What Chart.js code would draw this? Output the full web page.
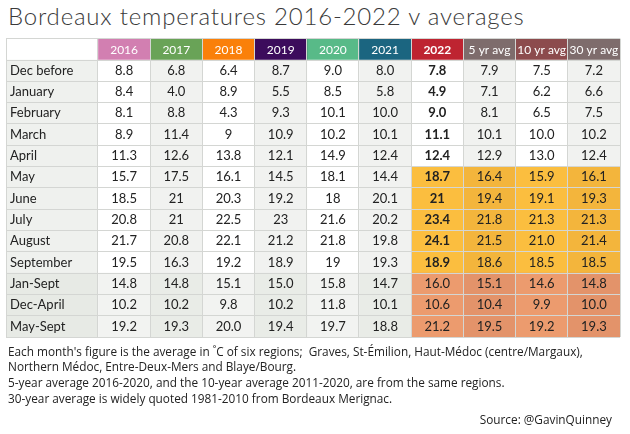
<!DOCTYPE html>
<html>
<head>
<meta charset="utf-8">
<script src="https://cdn.jsdelivr.net/npm/chart.js@4.4.0/dist/chart.umd.min.js"></script>
<style>
  body { margin: 0; background: #fff; width: 630px; height: 434px; overflow: hidden; position: relative; }
  #title { position: absolute; left: 8px; top: 1px; font-family: Lato, sans-serif; font-weight: 300; font-size: 24px; letter-spacing: 0.8px; color: #3a3a3a; white-space: nowrap; }
  #wrap { position: absolute; left: 0; top: 0; width: 630px; height: 434px; }
  .note { position: absolute; left: 8px; font-family: "Open Sans", sans-serif; font-size: 11.8px; color: #222; line-height: 15px; white-space: nowrap; }
</style>
</head>
<body>
<div id="title">Bordeaux temperatures 2016-2022 v averages</div>
<div id="wrap"><canvas id="myChart" width="630" height="434"></canvas></div>
<div class="note" style="top:344px">Each month's figure is the average in ˚C of six regions;&nbsp; Graves, St-Émilion, Haut-Médoc (centre/Margaux),</div>
<div class="note" style="top:359px">Northern Médoc, Entre-Deux-Mers and Blaye/Bourg.</div>
<div class="note" style="top:375px">5-year average 2016-2020, and the 10-year average 2011-2020, are from the same regions.</div>
<div class="note" style="top:391px">30-year average is widely quoted 1981-2010 from Bordeaux Merignac.</div>
<div class="note" style="top:412px; left:auto; right:18px">Source: @GavinQuinney</div>
<script>
const rowLabels = ['Dec before', 'January', 'February', 'March', 'April', 'May', 'June', 'July',
    'August', 'September', 'Jan-Sept', 'Dec-April', 'May-Sept'];
const columnLabels = ['2016', '2017', '2018', '2019', '2020', '2021', '2022', '5 yr avg', '10 yr avg', '30 yr avg'];

// values kept as printed (some cells have no decimal)
const v2016 = ['8.8', '8.4', '8.1', '8.9', '11.3', '15.7', '18.5', '20.8', '21.7', '19.5', '14.8', '10.2', '19.2'];
const v2017 = ['6.8', '4.0', '8.8', '11.4', '12.6', '17.5', '21', '21', '20.8', '16.3', '14.8', '10.2', '19.3'];
const v2018 = ['6.4', '8.9', '4.3', '9', '13.8', '16.1', '20.3', '22.5', '22.1', '19.2', '15.1', '9.8', '20.0'];
const v2019 = ['8.7', '5.5', '9.3', '10.9', '12.1', '14.5', '19.2', '23', '21.2', '18.9', '15.0', '10.2', '19.4'];
const v2020 = ['9.0', '8.5', '10.1', '10.2', '14.9', '18.1', '18', '21.6', '21.8', '19', '15.8', '11.8', '19.7'];
const v2021 = ['8.0', '5.8', '10.0', '10.1', '12.4', '14.4', '20.1', '20.2', '19.8', '19.3', '14.7', '10.1', '18.8'];
const v2022 = ['7.8', '4.9', '9.0', '11.1', '12.4', '18.7', '21', '23.4', '24.1', '18.9', '16.0', '10.6', '21.2'];
const avg5 = ['7.9', '7.1', '8.1', '10.1', '12.9', '16.4', '19.4', '21.8', '21.5', '18.6', '15.1', '10.4', '19.5'];
const avg10 = ['7.5', '6.2', '6.5', '10.0', '13.0', '15.9', '19.1', '21.3', '21.0', '18.5', '14.6', '9.9', '19.2'];
const avg30 = ['7.2', '6.6', '7.5', '10.2', '12.4', '16.1', '19.3', '21.3', '21.4', '18.5', '14.8', '10.0', '19.3'];

const columnValues = [v2016, v2017, v2018, v2019, v2020, v2021, v2022, avg5, avg10, avg30];

const headerColors = ['#d27fb1', '#69a357', '#fa800a', '#3c0c5c', '#58ba88', '#1b6580', '#be2431', '#7e6c6c', '#8c4b4d', '#7e6c6c'];

const LABEL_W = 92 / 52.2;   // label column width, in data-column units
const yCats = [''].concat(rowLabels);   // header row + data rows

function cellColor(col, row) {
    if (row === 0) return col < 0 ? '#ffffff' : headerColors[col];
    const r = row - 1;
    const summary = r >= 10;
    if (col < 0) return summary ? '#e7eae5' : '#eff1ee';
    const odd = col % 2 === 1;
    if (col >= 6) {
        if (r >= 5 && r <= 9) return odd ? '#f3b53c' : '#fbbe3f';
        if (summary) return odd ? '#e3936a' : '#ec9b6e';
    }
    if (summary) return odd ? '#e9ece7' : '#f2f3f1';
    return odd ? '#f1f2f0' : '#ffffff';
}

const datasets = [];
for (let c = -1; c < columnLabels.length; c++) {
    datasets.push({
        label: c < 0 ? 'label' : columnLabels[c],
        data: yCats.map(() => c < 0 ? [-LABEL_W, 0] : [c, c + 1]),
        backgroundColor: ctx => cellColor(c, ctx.dataIndex),
        borderWidth: 0,
        grouped: false,
        barPercentage: 1,
        categoryPercentage: 1
    });
}

const xEdges = [-LABEL_W].concat(columnLabels.map((_, i) => i), [columnLabels.length]);

// draws header, row labels and cell values at the scale positions
const cellText = {
    id: 'cellText',
    afterDraw(chart) {
        const ctx = chart.ctx;
        const xs = chart.scales.x;
        const ys = chart.scales.y;
        ctx.save();
        ctx.textBaseline = 'middle';
        yCats.forEach((cat, row) => {
            const y = ys.getPixelForValue(row);
            if (row === 0) {
                columnLabels.forEach((lab, c) => {
                    ctx.fillStyle = '#ffffff';
                    ctx.font = (c === 6 ? 'bold ' : '') + '12px Lato';
                    ctx.textAlign = 'center';
                    ctx.fillText(lab, xs.getPixelForValue(c + 0.5), y + 1);
                });
                return;
            }
            const r = row - 1;
            ctx.fillStyle = '#222';
            ctx.font = '13px Lato';
            ctx.textAlign = 'left';
            ctx.fillText(cat, xs.getPixelForValue(-LABEL_W) + 4, y);
            columnValues.forEach((vals, c) => {
                ctx.font = (c === 6 && r < 10 ? 'bold ' : '') + '13px Lato';
                ctx.textAlign = 'center';
                ctx.fillText(vals[r], xs.getPixelForValue(c + 0.5), y);
            });
        });
        ctx.restore();
    }
};

const chart = new Chart(document.getElementById('myChart').getContext('2d'), {
    type: 'bar',
    data: { labels: yCats, datasets: datasets },
    options: {
        indexAxis: 'y',
        responsive: false,
        animation: false,
        layout: { padding: { left: 6, right: 10, top: 38.7, bottom: 97 } },
        plugins: { legend: { display: false }, tooltip: { enabled: false }, title: { display: false } },
        scales: {
            x: {
                type: 'linear',
                min: -LABEL_W,
                max: columnLabels.length,
                afterBuildTicks: scale => { scale.ticks = xEdges.map(v => ({ value: v })); },
                ticks: { display: false },
                grid: { color: '#d4d6d3', drawTicks: false, z: 1 },
                border: { display: false }
            },
            y: {
                type: 'category',
                ticks: { display: false },
                grid: { color: '#d4d6d3', drawTicks: false, offset: true, z: 1 },
                border: { display: false }
            }
        }
    },
    plugins: [cellText]
});
</script>
</body>
</html>
